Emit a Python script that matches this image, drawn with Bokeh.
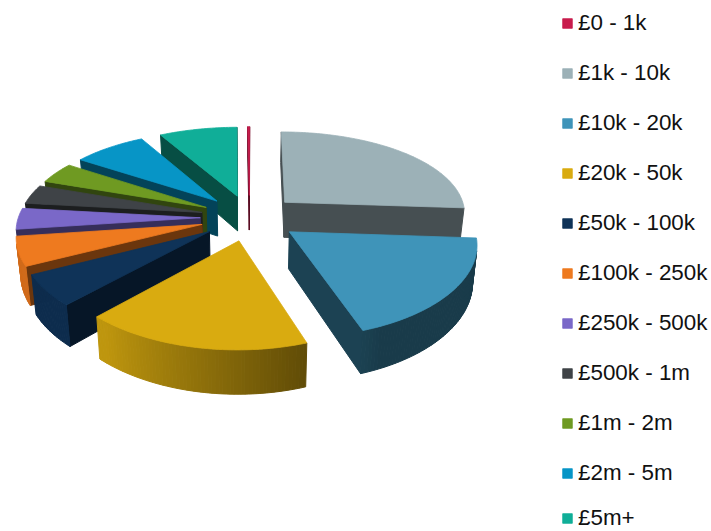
import math
from bokeh.embed import file_html
from bokeh.models import ColumnDataSource, Legend, LegendItem
from bokeh.plotting import figure
from bokeh.resources import INLINE

# Share of each band, in percent, clockwise from the twelve o'clock position
bands = ["£0 - 1k", "£1k - 10k", "£10k - 20k", "£20k - 50k", "£50k - 100k", "£100k - 250k",
         "£250k - 500k", "£500k - 1m", "£1m - 2m", "£2m - 5m", "£5m+"]
shares = [0.2, 26.0, 18.6, 17.2, 5.6, 5.3, 3.9, 3.6, 4.0, 7.5, 7.9]
colours = ["#c81c4c", "#9cb1b7", "#3f94b9", "#d9ab10", "#0f3358", "#ee7a1f",
           "#7a68c8", "#3f4347", "#6f9a22", "#0795c6", "#10ae98"]
start_angle = -0.6

# Projection of the tilted disc onto the page
CX, CY = 249.0, 217.0
RX, RY = 182.0, 85.0
PERSPECTIVE_X, PERSPECTIVE_Y = 0.12, 0.149
DEPTH = 36.0
EXPLODE = 0.27
BASE_SHRINK = 0.98
RADIAL_LIGHT = 0.45


def project(x, y, bottom=False):
    sx_scale = 1.0 / (1.0 - PERSPECTIVE_X * y)
    s = 1.0 / (1.0 - PERSPECTIVE_Y * y)
    sx, sy = RX * x * sx_scale, CY + RY * y * s
    if bottom:
        return CX + sx * BASE_SHRINK, sy + DEPTH * s
    return CX + sx, sy


def shade(hex_colour, f):
    r, g, b = (int(hex_colour[i:i + 2], 16) for i in (1, 3, 5))
    return "#%02x%02x%02x" % (int(r * f), int(g * f), int(b * f))


def rim_light(theta):
    # Outer wall is darkest on the right and brightens towards the lower left
    t = max(0.0, min(1.0, (theta - 155.0) / 65.0))
    return 0.40 + 0.48 * t


def signed_area(xs, ys):
    return sum(xs[i] * ys[(i + 1) % len(xs)] - xs[(i + 1) % len(xs)] * ys[i] for i in range(len(xs))) / 2


p = figure(width=711, height=531, x_range=(0, 711), y_range=(531, 0), output_backend="svg",
           toolbar_location=None, x_axis_type=None, y_axis_type=None, min_border=0)
p.grid.visible = False
p.outline_line_color = None

total = sum(shares)
slices = []
angle = start_angle
for name, share, colour in zip(bands, shares, colours):
    sweep = share / total * 360.0
    mid = math.radians(angle + sweep / 2)
    ox, oy = EXPLODE * math.sin(mid), -EXPLODE * math.cos(mid)
    slices.append(dict(name=name, colour=colour, a0=angle, a1=angle + sweep, ox=ox, oy=oy))
    angle += sweep

items = {}
# Paint from the back of the disc to the front
for sl in sorted(slices, key=lambda d: d["oy"]):
    n = max(2, int(sl["a1"] - sl["a0"]) + 1)
    thetas = [sl["a0"] + (sl["a1"] - sl["a0"]) * i / (n - 1) for i in range(n)]
    rim = [(sl["ox"] + math.sin(math.radians(t)), sl["oy"] - math.cos(math.radians(t))) for t in thetas]
    apex = (sl["ox"], sl["oy"])

    faces = [(apex, rim[0], RADIAL_LIGHT), (rim[-1], apex, RADIAL_LIGHT)]
    for i in range(n - 1):
        faces.append((rim[i], rim[i + 1], rim_light((thetas[i] + thetas[i + 1]) / 2)))

    wx, wy, wc = [], [], []
    for a, b, light in faces:
        t0, t1 = project(*a), project(*b)
        b1, b0 = project(*b, bottom=True), project(*a, bottom=True)
        xs, ys = [t0[0], t1[0], b1[0], b0[0]], [t0[1], t1[1], b1[1], b0[1]]
        # keep only walls that face the viewer
        if signed_area(xs, ys) < 0:
            wx.append(xs)
            wy.append(ys)
            wc.append(shade(sl["colour"], light))
    if wx:
        src = ColumnDataSource(dict(xs=wx, ys=wy, c=wc))
        p.patches("xs", "ys", source=src, fill_color="c", line_color="c", line_width=1.0)

    top = [project(*apex)] + [project(*q) for q in rim]
    r = p.patch([q[0] for q in top], [q[1] for q in top], fill_color=sl["colour"],
                line_color=sl["colour"], line_width=0.8)
    items[sl["name"]] = r


def make_legend(names, bottom):
    return Legend(items=[LegendItem(label=b, renderers=[items[b]]) for b in names],
                  location=(561, bottom), orientation="vertical", background_fill_alpha=0,
                  border_line_color=None, padding=0, margin=0, spacing=24,
                  glyph_width=12, glyph_height=12, label_standoff=5,
                  label_text_font="Liberation Sans", label_text_font_size="22.4px",
                  label_text_color="#111111", label_height=26, label_width=140)


# The last entry gets its own block so that it stays inside the page
p.add_layout(make_legend(bands[:-1], 45), "center")
p.add_layout(make_legend(bands[-1:], 0), "center")

open("out.html", "w").write(file_html(p, INLINE))
